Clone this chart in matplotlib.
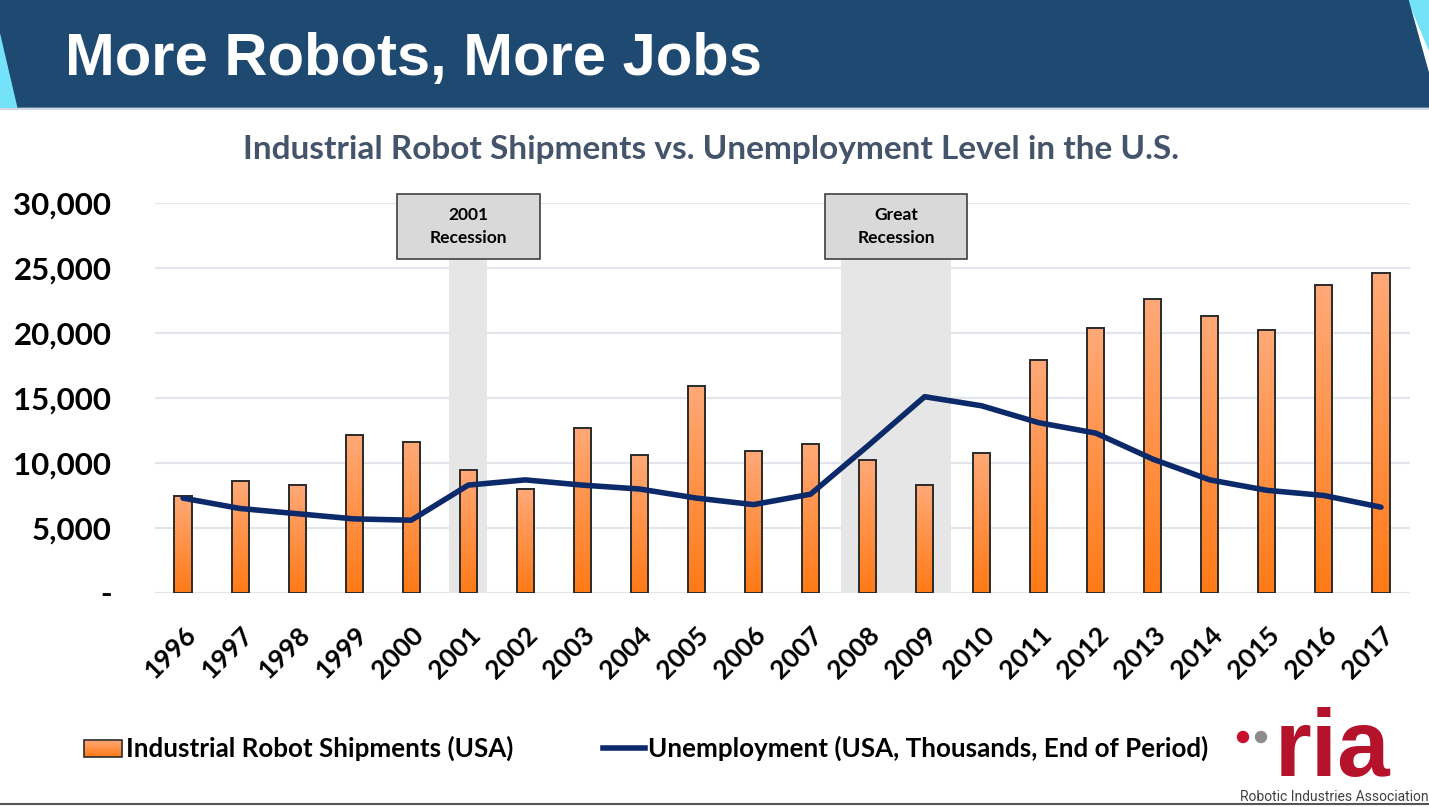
import matplotlib as mpl
import matplotlib.pyplot as plt
import matplotlib.colors as colors
import matplotlib.transforms as mtransforms
from matplotlib.patches import Rectangle, Polygon, Circle
from matplotlib.lines import Line2D
import numpy as np


mpl.rcParams["font.family"] = ["Lato", "DejaVu Sans"]
mpl.rcParams["font.weight"] = "bold"

YEARS = [str(y) for y in range(1996, 2018)]
SHIPMENTS = [7460, 8600, 8300, 12150, 11600, 9460, 8000, 12700, 10600,
             15900, 10900, 11460, 10200, 8300, 10800, 17900, 20400, 22600,
             21300, 20200, 23700, 24600]
UNEMPLOYMENT = [7300, 6500, 6100, 5700, 5600, 8300, 8700, 8300, 8000,
                7300, 6800, 7600, 11300, 15100, 14400, 13100, 12300, 10300,
                8700, 7900, 7500, 6600]
YTICKS = [0, 5000, 10000, 15000, 20000, 25000, 30000]
YTICKLABELS = ["-", "5,000", "10,000", "15,000", "20,000", "25,000", "30,000"]
# (label, first year, last year) of each recession band
RECESSIONS = [("2001\nRecession", "2001", "2001"),
              ("Great\nRecession", "2008", "2009")]

W, H = 1429, 807
fig = plt.figure(figsize=(W / 100, H / 100), dpi=100)

# banner across the top
bg = fig.add_axes([0, 0, 1, 1], zorder=-5)
bg.set_xlim(0, W)
bg.set_ylim(H, 0)
bg.axis("off")
bg.add_patch(Polygon([(0, 30), (0, 107), (18, 107)], closed=True,
                     color="#74e3fa"))
bg.add_patch(Polygon([(1408, 0), (1429, 0), (1429, 50)], closed=True,
                     color="#74e3fa"))
bg.add_patch(Polygon([(0, 0), (1408, 0), (1429, 75), (1429, 107),
                      (18, 107), (0, 30)], closed=True, color="#1e4970"))
bg.plot([0, W], [109, 109], color="#d0d8e2", lw=1.5)
bg.plot([0, W], [804, 804], color="#555555", lw=1.5)
fig.text(65 / W, 1 - 60 / H, "More Robots, More Jobs", color="white",
         family="Liberation Sans", fontsize=43, weight="bold", va="center")
fig.text(711 / W, 1 - 150 / H,
         "Industrial Robot Shipments vs. Unemployment Level in the U.S.",
         color="#44546a", fontsize=24, ha="center", va="center")

ax = fig.add_axes([154.5 / W, 1 - 593 / H, 1255 / W, 390 / H])
x = np.arange(len(YEARS))

for y in YTICKS:
    ax.axhline(y, color="#e2e6ec", lw=1.6, zorder=0)

box_bottom, box_top = 25700, 30700
for label, first, last in RECESSIONS:
    i0, i1 = YEARS.index(first), YEARS.index(last)
    pad = 0.33 if i0 == i1 else 0.47
    ax.add_patch(Rectangle((i0 - pad, 0), i1 - i0 + 2 * pad, box_bottom,
                           color="#e6e6e6", zorder=0.5, lw=0))
    cx = (i0 + i1) / 2
    ax.add_patch(Rectangle((cx - 1.25, box_bottom), 2.5, box_top - box_bottom,
                           facecolor="#d9d9d9", edgecolor="#404040", lw=1.2,
                           zorder=5, clip_on=False))
    ax.text(cx, (box_bottom + box_top) / 2, label, ha="center", va="center",
            fontsize=12.5, linespacing=1.6, zorder=6)

cmap = colors.LinearSegmentedColormap.from_list("bar", ["#ff7a16", "#ffa978"])
grad = np.linspace(0, 1, 256).reshape(-1, 1)
bars = ax.bar(x, SHIPMENTS, width=0.3, facecolor="none", edgecolor="#2b2b2b",
              lw=1.4, zorder=3)
for rect in bars:
    x0, w, h = rect.get_x(), rect.get_width(), rect.get_height()
    im = ax.imshow(grad, extent=[x0, x0 + w, 0, h], origin="lower",
                   aspect="auto", cmap=cmap, zorder=2)
    im.set_clip_path(rect)

ax.plot(x, UNEMPLOYMENT, color="#0c2a6a", lw=4, solid_joinstyle="round",
        solid_capstyle="round", zorder=4)

ax.set_xlim(-0.5, len(YEARS) - 0.5)
ax.set_ylim(0, 30000)
for s in ax.spines.values():
    s.set_visible(False)
ax.set_yticks(YTICKS)
ax.set_yticklabels(YTICKLABELS, fontsize=22.5)
ax.set_xticks(x)
ax.set_xticklabels(YEARS, fontsize=19, rotation=45, ha="right",
                   rotation_mode="anchor")
shift = mtransforms.ScaledTranslation(6 / 72, 0, fig.dpi_scale_trans)
for lbl in ax.get_xticklabels():
    lbl.set_transform(lbl.get_transform() + shift)
ax.tick_params(length=0)
ax.tick_params(axis="y", pad=31)
ax.tick_params(axis="x", pad=21)

# legend drawn by hand in pixel space
leg_patch = Rectangle((84, 740), 38, 17, facecolor="none",
                      edgecolor="#2b2b2b", lw=1.2, zorder=3)
bg.add_patch(leg_patch)
leg_im = bg.imshow(grad, extent=[84, 122, 757, 740], origin="lower",
                   aspect="auto", cmap=cmap, zorder=2)
leg_im.set_clip_path(leg_patch)
bg.set_xlim(0, W)
bg.set_ylim(H, 0)
bg.text(126, 748, "Industrial Robot Shipments (USA)", fontsize=18.7,
        va="center", ha="left")
bg.add_line(Line2D([603, 645], [748, 748], color="#0c2a6a", lw=4))
bg.text(648, 748, "Unemployment (USA, Thousands, End of Period)",
        fontsize=18.7, va="center", ha="left")

# ria logo
bg.add_patch(Circle((1243, 737), 5.5, color="#c8102e"))
bg.add_patch(Circle((1261, 737), 5.5, color="#8c8c8c"))
bg.text(1332, 776, "ria", color="#b5122b", family="Liberation Sans",
        fontsize=68, weight="bold", ha="center", va="baseline")
bg.text(1334, 797, "Robotic Industries Association", color="#404040",
        family="Roboto", weight="normal", fontsize=10, ha="center",
        va="center")

fig.savefig("out.png", dpi=100)
